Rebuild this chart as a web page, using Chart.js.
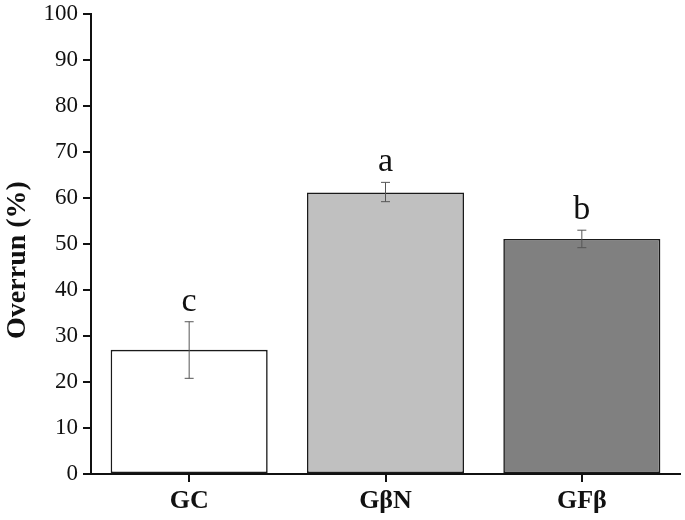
<!DOCTYPE html>
<html>
<head>
<meta charset="utf-8">
<script src="https://cdn.jsdelivr.net/npm/chart.js@4"></script>
<style>
  html, body { margin: 0; padding: 0; background: #fff; }
  #wrap { width: 685px; height: 520px; }
</style>
</head>
<body>
<div id="wrap"><canvas id="chart" width="685" height="520"></canvas></div>
<script>
// data
const groups = ['GC', 'GβN', 'GFβ'];
const overrun = [27.0, 61.2, 51.1];
const errLow = [20.8, 59.2, 49.2];
const errHigh = [33.1, 63.4, 53.0];
const letters = ['c', 'a', 'b'];
const fills = ['#ffffff', '#c0c0c0', '#808080'];
const yTitle = 'Overrun (%)';

const serif = "'Liberation Serif', 'DejaVu Serif', serif";

// error bars + significance letters
const errorBars = {
  id: 'errorBars',
  afterDatasetsDraw(chart) {
    const ctx = chart.ctx;
    const x = chart.scales.x, y = chart.scales.y;
    ctx.save();
    ctx.strokeStyle = '#555';
    ctx.lineWidth = 1;
    groups.forEach((g, i) => {
      const px = x.getPixelForValue(i);
      const top = y.getPixelForValue(errHigh[i]);
      const bot = y.getPixelForValue(errLow[i]);
      ctx.beginPath();
      ctx.moveTo(px, top); ctx.lineTo(px, bot);
      ctx.moveTo(px - 4.5, top); ctx.lineTo(px + 4.5, top);
      ctx.moveTo(px - 4.5, bot); ctx.lineTo(px + 4.5, bot);
      ctx.stroke();
      ctx.fillStyle = '#111';
      ctx.font = '34px ' + serif;
      ctx.textAlign = 'center';
      ctx.textBaseline = 'alphabetic';
      ctx.fillText(letters[i], px, top - 11);
    });
    // y axis title, sits a bit below the middle of the axis in the original
    ctx.translate(18, 260);
    ctx.rotate(-Math.PI / 2);
    ctx.font = 'bold 28px ' + serif;
    ctx.textBaseline = 'middle';
    ctx.fillText(yTitle, 0, 0);
    ctx.restore();
  }
};

new Chart(document.getElementById('chart'), {
  type: 'bar',
  data: {
    labels: groups,
    datasets: [{
      data: overrun,
      backgroundColor: fills,
      borderColor: '#1a1a1a',
      borderWidth: 1.6,
      borderSkipped: false,
      barPercentage: 0.8,
      categoryPercentage: 1
    }]
  },
  options: {
    responsive: false,
    animation: false,
    layout: { padding: { top: 14, right: 5, left: 0, bottom: 0 } },
    plugins: { legend: { display: false }, tooltip: { enabled: false } },
    scales: {
      x: {
        offset: true,
        grid: { display: true, drawOnChartArea: false, offset: false, tickLength: 8, tickColor: '#111', lineWidth: 2 },
        border: { color: '#111', width: 2 },
        ticks: { color: '#111', padding: 4, font: { family: serif, size: 26, weight: 'bold' } },
        afterFit(s) { s.height = 46; }
      },
      y: {
        min: 0, max: 100,
        ticks: { stepSize: 10, color: '#111', padding: 5, font: { family: serif, size: 23 } },
        grid: { display: true, drawOnChartArea: false, tickLength: 8, tickColor: '#111', lineWidth: 2 },
        border: { color: '#111', width: 2 },
        afterFit(s) { s.width = 91; s.paddingTop = 0; s.paddingBottom = 0; }
      }
    }
  },
  plugins: [errorBars]
});
</script>
</body>
</html>
